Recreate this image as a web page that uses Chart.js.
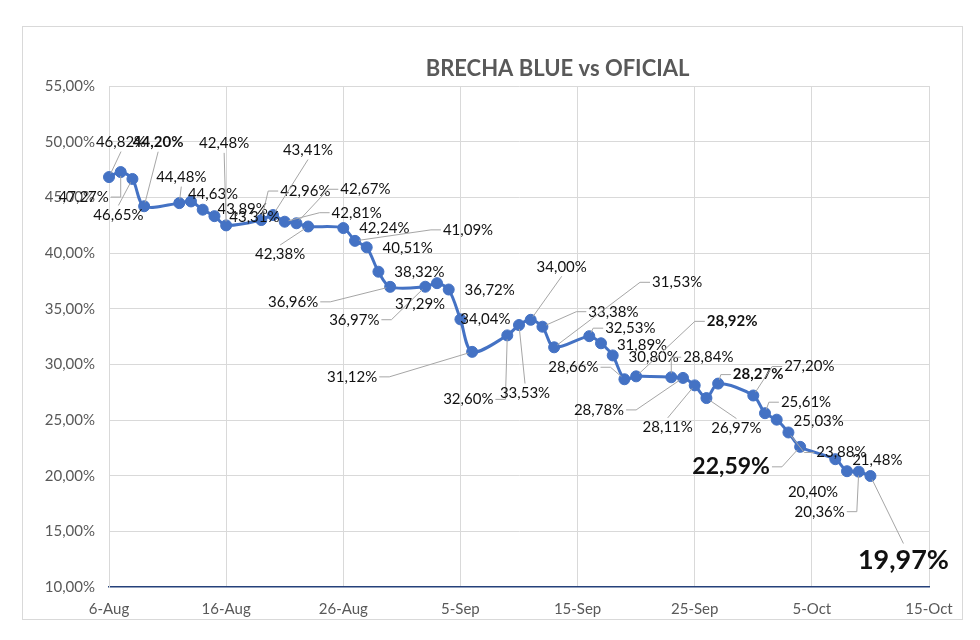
<!DOCTYPE html>
<html>
<head>
<meta charset="utf-8">
<script src="https://cdn.jsdelivr.net/npm/chart.js@4.4.1/dist/chart.umd.min.js"></script>
<style>
  html, body { margin: 0; padding: 0; background: #ffffff; }
  #wrap { width: 980px; height: 640px; position: relative; }
</style>
</head>
<body>
<div id="wrap"><canvas id="c" width="980" height="640"></canvas></div>
<script>
// ---------- DATA ----------
const chartTitle = 'BRECHA BLUE vs OFICIAL';
const startDate = '2024-08-06';
const dates = [
  '2024-08-06','2024-08-07','2024-08-08','2024-08-09',
  '2024-08-12','2024-08-13','2024-08-14','2024-08-15','2024-08-16',
  '2024-08-19','2024-08-20','2024-08-21','2024-08-22','2024-08-23',
  '2024-08-26','2024-08-27','2024-08-28','2024-08-29','2024-08-30',
  '2024-09-02','2024-09-03','2024-09-04','2024-09-05','2024-09-06',
  '2024-09-09','2024-09-10','2024-09-11','2024-09-12','2024-09-13',
  '2024-09-16','2024-09-17','2024-09-18','2024-09-19','2024-09-20',
  '2024-09-23','2024-09-24','2024-09-25','2024-09-26','2024-09-27',
  '2024-09-30','2024-10-01','2024-10-02','2024-10-03','2024-10-04',
  '2024-10-07','2024-10-08','2024-10-09','2024-10-10'
];
const brecha = [
  46.82, 47.27, 46.65, 44.20,
  44.48, 44.63, 43.89, 43.31, 42.48,
  42.96, 43.41, 42.81, 42.67, 42.38,
  42.24, 41.09, 40.51, 38.32, 36.96,
  36.97, 37.29, 36.72, 34.04, 31.12,
  32.60, 33.53, 34.00, 33.38, 31.53,
  32.53, 31.89, 30.80, 28.66, 28.92,
  28.84, 28.78, 28.11, 26.97, 28.27,
  27.20, 25.61, 25.03, 23.88, 22.59,
  21.48, 20.40, 20.36, 19.97
];
const xTickLabels = ['6-Aug','16-Aug','26-Aug','5-Sep','15-Sep','25-Sep','5-Oct','15-Oct'];
const yMin = 10, yMax = 55, yStep = 5;
const xStepDays = 10;

// ---------- LABEL LAYOUT (offset of label centre from its point, leader flag, emphasis) ----------
const labelLayout = [
  [12,-35,1,0],[-37,25,1,0],[-14,36,1,0],[14,-64,1,1],
  [2,-26,1,0],[22,-7,0,0],[40,-1,0,0],[40,1,0,0],[-2,-82,1,0],
  [44,-29,1,0],[35,-65,1,0],[72,-9,1,0],[69,-34,1,0],[-28,28,1,0],
  [41,0,0,0],[113,-11,1,0],[41,1,0,0],[41,0,0,0],[-97,15,1,0],
  [-71,33,1,0],[-17,21,0,0],[41,1,0,0],[25,0,0,0],[-120,25,1,0],
  [-39,64,1,0],[6,68,1,0],[31,-53,1,0],[71,-15,1,0],[123,-65,1,0],
  [41,-8,1,0],[41,2,0,0],[41,2,0,0],[-51,-12,1,0],[96,-55,1,1],
  [37,-20,1,0],[-84,32,1,0],[-27,42,1,0],[30,30,1,0],[40,-9,1,1],
  [56,-29,1,0],[41,-11,1,0],[42,1,0,0],[53,20,1,0],[-69,20,1,2],
  [42,1,0,0],[-34,21,0,0],[-39,40,1,0],[33,84,1,3]
];
const labelStyles = [
  { font: '15px Lato', h: 17 },
  { font: 'bold 15px Lato', h: 17 },
  { font: 'bold 23px Lato', h: 26 },
  { font: 'bold 27px Lato', h: 31 }
];

// ---------- HELPERS ----------
const DAY = 86400000;
const dayOffset = d => Math.round((Date.parse(d) - Date.parse(startDate)) / DAY);
const fmtPct = v => v.toFixed(2).replace('.', ',') + '%';
const points = dates.map((d, i) => ({ x: dayOffset(d), y: brecha[i] }));

// ---------- PLUGINS ----------
const framePlugin = {
  id: 'framePlugin',
  beforeDraw(chart) {
    const ctx = chart.ctx;
    ctx.save();
    ctx.fillStyle = '#ffffff';
    ctx.fillRect(0, 0, chart.width, chart.height);
    ctx.strokeStyle = '#d9d9d9';
    ctx.lineWidth = 1;
    ctx.strokeRect(22.5, 26.5, 940, 593);
    ctx.restore();
  },
  afterDraw(chart) {
    const ctx = chart.ctx;
    const a = chart.chartArea;
    ctx.save();
    ctx.font = 'bold 22px Lato';
    ctx.fillStyle = '#595959';
    ctx.textAlign = 'center';
    ctx.textBaseline = 'middle';
    ctx.fillText(chartTitle, a.left + (a.right - a.left) * 0.547, a.top - 17);
    ctx.restore();
  }
};

const dataLabelPlugin = {
  id: 'dataLabelPlugin',
  afterDatasetsDraw(chart) {
    const ctx = chart.ctx;
    const meta = chart.getDatasetMeta(0);
    ctx.save();
    meta.data.forEach((pt, i) => {
      const [dx, dy, leader, emph] = labelLayout[i];
      const st = labelStyles[emph];
      const text = fmtPct(brecha[i]);
      ctx.font = st.font;
      const w = ctx.measureText(text).width;
      const cx = pt.x + dx, cy = pt.y + dy;
      const l = cx - w / 2 - 2, r = cx + w / 2 + 2;
      const t = cy - st.h / 2 - 1, b = cy + st.h / 2 + 1;
      if (leader) {
        ctx.strokeStyle = '#a6a6a6';
        ctx.lineWidth = 1;
        ctx.beginPath();
        if (pt.x < l - 9.5 || pt.x > r + 9.5) {
          const side = pt.x < l ? l : r;
          const dir = pt.x < l ? -1 : 1;
          const stub = Math.min(10, Math.abs(pt.x - side));
          ctx.moveTo(side, cy);
          ctx.lineTo(side + dir * stub, cy);
          const ex = side + dir * stub;
          const ang = Math.atan2(pt.y - cy, pt.x - ex);
          ctx.lineTo(pt.x - Math.cos(ang) * 4, pt.y - Math.sin(ang) * 4);
        } else {
          const ay = pt.y < t ? t : b;
          const ang = Math.atan2(pt.y - ay, pt.x - cx);
          ctx.moveTo(cx, ay);
          ctx.lineTo(pt.x - Math.cos(ang) * 4, pt.y - Math.sin(ang) * 4);
        }
        ctx.stroke();
      }
      ctx.fillStyle = '#111111';
      ctx.textAlign = 'center';
      ctx.textBaseline = 'middle';
      ctx.fillText(text, cx, cy);
    });
    ctx.restore();
  }
};

// ---------- CHART ----------
new Chart(document.getElementById('c'), {
  type: 'line',
  data: {
    datasets: [{
      label: 'Brecha',
      data: points,
      borderColor: '#4472C4',
      backgroundColor: '#4472C4',
      borderWidth: 3,
      pointRadius: 5.5,
      pointBackgroundColor: '#4472C4',
      pointBorderColor: '#4472C4',
      pointBorderWidth: 1,
      tension: 0.3,
      clip: false
    }]
  },
  options: {
    responsive: false,
    animation: false,
    devicePixelRatio: 1,
    layout: { padding: { left: 0, right: 51, top: 86, bottom: 0 } },
    plugins: {
      legend: { display: false },
      title: { display: false },
      tooltip: { enabled: false }
    },
    scales: {
      x: {
        type: 'linear',
        min: 0,
        max: (xTickLabels.length - 1) * xStepDays,
        afterFit: s => { s.height = 53; },
        grid: { color: '#d9d9d9', lineWidth: 1, drawTicks: false },
        border: { display: true, color: '#25417A', width: 1.5 },
        ticks: {
          stepSize: xStepDays,
          padding: 13,
          color: '#595959',
          font: { family: 'Lato', size: 15 },
          maxRotation: 0,
          autoSkip: false,
          callback: v => xTickLabels[Math.round(v / xStepDays)]
        }
      },
      y: {
        min: yMin,
        max: yMax,
        afterFit: s => { s.width = 109; },
        grid: {
          color: ctx => (ctx.tick && ctx.tick.value === yMin) ? 'rgba(0,0,0,0)' : '#d9d9d9',
          lineWidth: 1,
          drawTicks: false
        },
        border: { display: true, color: '#d9d9d9', width: 1 },
        ticks: {
          stepSize: yStep,
          padding: 14,
          color: '#595959',
          font: { family: 'Lato', size: 15 },
          callback: v => fmtPct(v)
        }
      }
    }
  },
  plugins: [framePlugin, dataLabelPlugin]
});
</script>
</body>
</html>
